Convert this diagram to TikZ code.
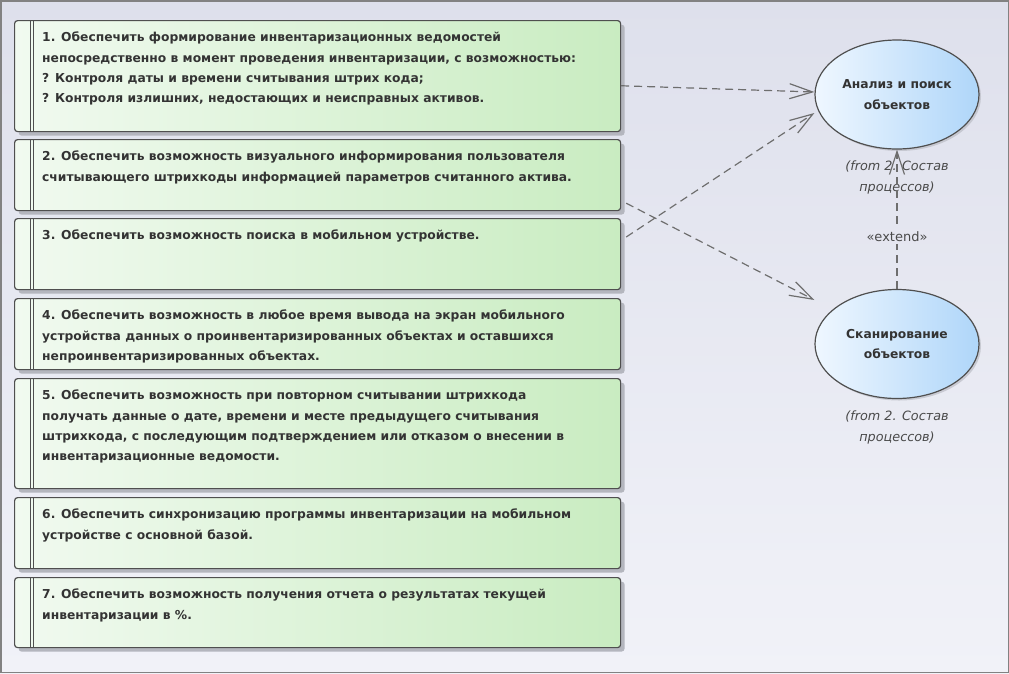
\documentclass[tikz,border=0pt]{standalone}
\usepackage{fontspec}
\setmainfont{DejaVu Sans}
\usetikzlibrary{arrows.meta, shapes.geometric, shadows}

\definecolor{bgtop}{HTML}{DEE0EC}
\definecolor{bgbot}{HTML}{F1F2F8}
\definecolor{framecol}{HTML}{828282}
\definecolor{boxline}{HTML}{4F4F4F}
\definecolor{reqleft}{HTML}{F1FAF0}
\definecolor{reqmid}{HTML}{E6F6E2}
\definecolor{reqright}{HTML}{C9ECC1}
\definecolor{shadowgray}{HTML}{B4B6BE}
\definecolor{ucleft}{HTML}{EFF7FF}
\definecolor{ucright}{HTML}{AFD6F9}
\definecolor{txtcol}{HTML}{333333}
\definecolor{depcol}{HTML}{6E6E6E}
\definecolor{fromcol}{HTML}{4A4A4A}
\definecolor{extfill}{HTML}{E5E6F0}

\newcommand{\reqfont}{\fontsize{12.3}{20.3}\selectfont\bfseries}
\newcommand{\fromfont}{\fontsize{12.8}{21}\selectfont\itshape}

\begin{document}
\begin{tikzpicture}[x=1pt, y=-1pt, >={Straight Barb[length=23pt, width=15pt]},
  reqbox/.style={draw=boxline, line width=1.2pt, rounded corners=3pt,
    left color=reqleft, middle color=reqmid, right color=reqright,
    minimum width=606pt, inner sep=0pt, anchor=north west,
    drop shadow={shadow xshift=4pt, shadow yshift=-4pt, fill=shadowgray, opacity=1}},
  reqtext/.style={anchor=north west, align=left, inner sep=0pt, text=txtcol, font=\reqfont},
  ucase/.style={ellipse, draw=boxline, line width=1.2pt, left color=ucleft, right color=ucright,
    minimum width=164pt, minimum height=109pt, inner sep=0pt, align=center,
    text=txtcol, font=\reqfont,
    drop shadow={shadow xshift=2pt, shadow yshift=-2pt, fill=shadowgray, opacity=0.6}},
  fromtext/.style={align=center, inner sep=0pt, text=fromcol, font=\fromfont},
  dep/.style={->, draw=depcol, line width=1.2pt, dash pattern=on 8pt off 5pt}]

  %--- canvas: background and frame
  \useasboundingbox (0,0) rectangle (1009,673);
  \fill[top color=bgtop, bottom color=bgbot] (0,0) rectangle (1009,673);
  \draw[framecol, line width=1.5pt] (0.75,0.75) rectangle (1008.25,672.25);

  %--- requirements: number / top / height / text
  \foreach \i/\ytop/\h/\txt in {
    1/20/111/{1. Обеспечить формирование инвентаризационных ведомостей\\непосредственно в момент проведения инвентаризации, с возможностью:\\? Контроля даты и времени считывания штрих кода;\\? Контроля излишних, недостающих и неисправных активов.},
    2/139/71/{2. Обеспечить возможность визуального информирования пользователя\\считывающего штрихкоды информацией параметров считанного актива.},
    3/218/71/{3. Обеспечить возможность поиска в мобильном устройстве.},
    4/298/71/{4. Обеспечить возможность в любое время вывода на экран мобильного\\устройства данных о проинвентаризированных объектах и оставшихся\\непроинвентаризированных объектах.},
    5/378/110/{5. Обеспечить возможность при повторном считывании штрихкода\\получать данные о дате, времени и месте предыдущего считывания\\штрихкода, с последующим подтверждением или отказом о внесении в\\инвентаризационные ведомости.},
    6/497/71/{6. Обеспечить синхронизацию программы инвентаризации на мобильном\\устройстве с основной базой.},
    7/577/70/{7. Обеспечить возможность получения отчета о результатах текущей\\инвентаризации в \%.}}{
    \node[reqbox, minimum height=\h pt] (r\i) at (14,\ytop) {};
    \draw[boxline, line width=0.8pt] ([xshift=16pt]r\i.north west) -- ([xshift=16pt]r\i.south west);
    \draw[boxline, line width=0.8pt] ([xshift=19pt]r\i.north west) -- ([xshift=19pt]r\i.south west);
    \node[reqtext] (t\i) at ([xshift=28pt, yshift=-12pt]r\i.north west) {\txt};
  }

  %--- use cases
  \node[ucase] (uc1) at (897,94.5) {Анализ и поиск\\объектов};
  \node[ucase] (uc2) at (897,344) {Сканирование\\объектов};
  \node[fromtext] (f1) at (897,177.5) {(from 2. Состав\\процессов)};
  \node[fromtext] (f2) at (897,427) {(from 2. Состав\\процессов)};

  %--- dependencies
  \draw[dep] (r1) -- ([yshift=2.5pt]uc1.west);
  \draw[dep] ([xshift=5pt, yshift=-19pt]r3.north east) -- ([yshift=-18.5pt]uc1.west);
  \draw[dep] ([xshift=5pt, yshift=8pt]r2.south east) -- ([yshift=44pt]uc2.west);
  \draw[dep] (uc2.north) -- node[pos=0.376, fill=extfill, inner sep=2pt, text=fromcol, font=\fontsize{13}{15}\selectfont] (ext) {«extend»} (uc1.south);

\end{tikzpicture}
\end{document}
